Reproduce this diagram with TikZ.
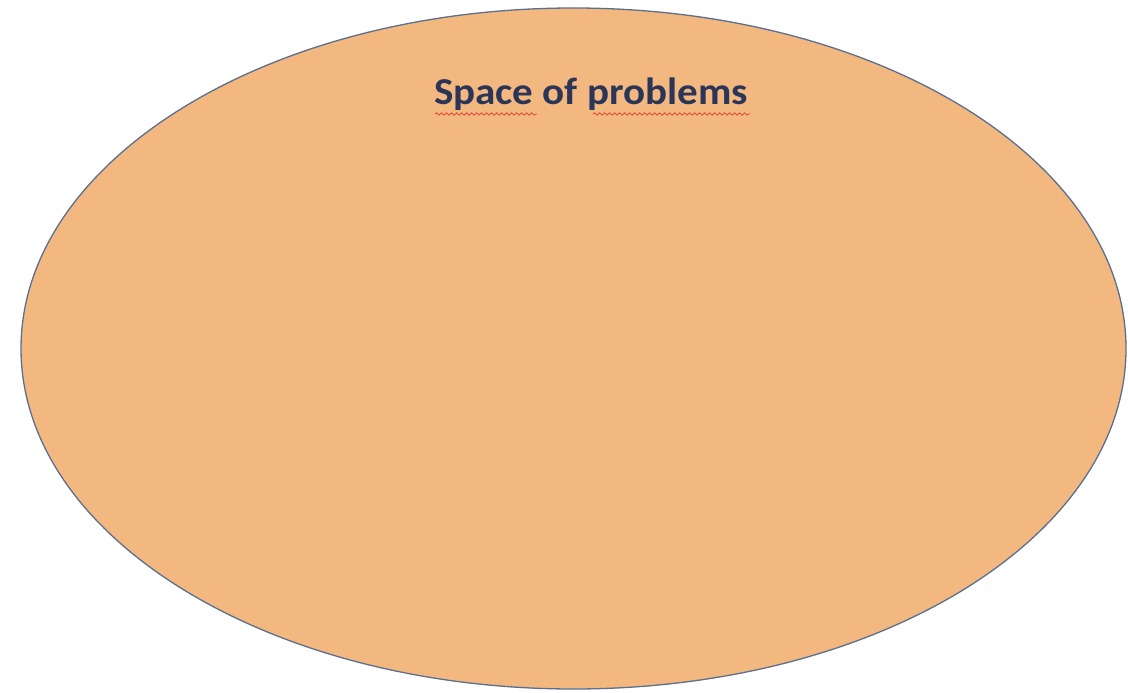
\documentclass[tikz,border=0pt]{standalone}
\usepackage{fontspec}
\setmainfont{Carlito}
\usetikzlibrary{decorations.pathmorphing,shapes.geometric}
\definecolor{fillor}{HTML}{F2B880}
\definecolor{edgec}{HTML}{5B6F8E}
\definecolor{txtc}{HTML}{2B3558}
\definecolor{squig}{HTML}{E0453C}
\tikzset{
  space/.style={ellipse, draw=edgec, line width=1.3pt, fill=fillor, inner sep=0pt, minimum width=1105pt, minimum height=681pt},
  title/.style={font=\fontsize{38}{42}\selectfont\bfseries, text=txtc, inner sep=0pt, anchor=base, xscale=1.08},
  spell/.style={draw=squig, line width=0.8pt, decorate, decoration={snake, amplitude=1.2pt, segment length=5pt}}
}
\begin{document}
\begin{tikzpicture}[x=1pt,y=-1pt]
\useasboundingbox (0,0) rectangle (1128,693);
\node[space] (e) at (573.5,348.5) {};
\node[title] (t) at (591,104) {Space of problems};
\coordinate (s1) at (435,114);
\coordinate (s2) at (537,114);
\coordinate (s3) at (593,114);
\coordinate (s4) at (750,114);
\draw[spell] (s1) -- (s2);
\draw[spell] (s3) -- (s4);
\end{tikzpicture}
\end{document}
